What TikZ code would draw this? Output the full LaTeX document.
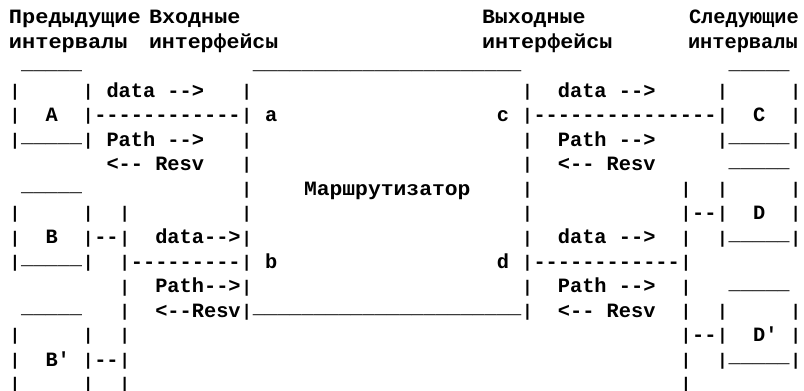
\documentclass[tikz,border=0pt]{standalone}
\usepackage{fontspec}
\setmonofont{Liberation Mono}
\usepackage{graphicx}

% Monospaced character grid: column pitch 12.2, row pitch 24.44
\tikzset{
  txt/.style={anchor=base west, inner sep=0pt, outer sep=0pt,
    font=\ttfamily\bfseries\fontsize{20.33}{24}\selectfont},
}
\newcommand\colx[1]{8.9+12.2*#1}
\newcommand\rowy[1]{391-24-24.44*(#1-1)}
% text at grid column #1, row #2
\newcommand\putcell[3]{\node[txt] (r#2c#1) at ({\colx{#1}},{\rowy{#2}}) {#3};}
% widened word at free x position #1, row #2, horizontal factor #3
\newcommand\putword[4]{\node[txt] (r#2x#1) at (#1,{\rowy{#2}}) {\scalebox{#3}[1]{#4}};}
% slimmer, shorter vertical bar and raised underscore, one cell wide each
\newcommand\vb{\makebox[0.6em]{\raisebox{0.04em}{\scalebox{0.8}[0.83]{|}}}}
\newcommand\us{\raisebox{0.17em}{\_}}
\newcommand\uu{\us\us\us\us\us}
\newcommand\ulong{\uu\uu\uu\uu\us\us}

\begin{document}
\begin{tikzpicture}[x=1pt,y=1pt]
\useasboundingbox (0,0) rectangle (804,391);
\fill[white] (0,0) rectangle (804,391);

% headings
\putword{9}{1}{1.08}{Предыдущие}
\putword{149}{1}{1.07}{Входные}
\putword{482}{1}{1.06}{Выходные}
\putword{689}{1}{1}{Следующие}
\putword{9}{2}{1.08}{интервалы}
\putword{149}{2}{1.06}{интерфейсы}
\putword{482}{2}{1.07}{интерфейсы}
\putword{688}{2}{1}{интервалы}

% row 3
\putcell{1}{3}{\uu}
\putcell{20}{3}{\ulong}
\putcell{59}{3}{\uu}

% row 4
\putcell{0}{4}{\vb}
\putcell{6}{4}{\vb}
\putcell{8}{4}{data -->}
\putcell{19}{4}{\vb}
\putcell{42}{4}{\vb}
\putcell{45}{4}{data -->}
\putcell{58}{4}{\vb}
\putcell{64}{4}{\vb}

% row 5
\putcell{0}{5}{\vb}
\putcell{3}{5}{A}
\putcell{6}{5}{\vb------------\vb}
\putcell{21}{5}{a}
\putcell{40}{5}{c}
\putcell{42}{5}{\vb---------------\vb}
\putcell{61}{5}{C}
\putcell{64}{5}{\vb}

% row 6
\putcell{0}{6}{\vb\uu\vb}
\putcell{8}{6}{Path -->}
\putcell{19}{6}{\vb}
\putcell{42}{6}{\vb}
\putcell{45}{6}{Path -->}
\putcell{58}{6}{\vb\uu\vb}

% row 7
\putcell{8}{7}{<-- Resv}
\putcell{19}{7}{\vb}
\putcell{42}{7}{\vb}
\putcell{45}{7}{<-- Resv}
\putcell{59}{7}{\uu}

% row 8
\putcell{1}{8}{\uu}
\putcell{19}{8}{\vb}
\putword{304}{8}{1.05}{Маршрутизатор}
\putcell{42}{8}{\vb}
\putcell{55}{8}{\vb}
\putcell{58}{8}{\vb}
\putcell{64}{8}{\vb}

% row 9
\putcell{0}{9}{\vb}
\putcell{6}{9}{\vb}
\putcell{9}{9}{\vb}
\putcell{19}{9}{\vb}
\putcell{42}{9}{\vb}
\putcell{55}{9}{\vb--\vb}
\putcell{61}{9}{D}
\putcell{64}{9}{\vb}

% row 10
\putcell{0}{10}{\vb}
\putcell{3}{10}{B}
\putcell{6}{10}{\vb--\vb}
\putcell{12}{10}{data-->\vb}
\putcell{42}{10}{\vb}
\putcell{45}{10}{data -->}
\putcell{55}{10}{\vb}
\putcell{58}{10}{\vb\uu\vb}

% row 11
\putcell{0}{11}{\vb\uu\vb}
\putcell{9}{11}{\vb---------\vb}
\putcell{21}{11}{b}
\putcell{40}{11}{d}
\putcell{42}{11}{\vb------------\vb}

% row 12
\putcell{9}{12}{\vb}
\putcell{12}{12}{Path-->\vb}
\putcell{42}{12}{\vb}
\putcell{45}{12}{Path -->}
\putcell{55}{12}{\vb}
\putcell{59}{12}{\uu}

% row 13
\putcell{1}{13}{\uu}
\putcell{9}{13}{\vb}
\putcell{12}{13}{<--Resv\vb}
\putcell{20}{13}{\ulong}
\putcell{42}{13}{\vb}
\putcell{45}{13}{<-- Resv}
\putcell{55}{13}{\vb}
\putcell{58}{13}{\vb}
\putcell{64}{13}{\vb}

% row 14
\putcell{0}{14}{\vb}
\putcell{6}{14}{\vb}
\putcell{9}{14}{\vb}
\putcell{55}{14}{\vb--\vb}
\putcell{61}{14}{D\textquotesingle}
\putcell{64}{14}{\vb}

% row 15
\putcell{0}{15}{\vb}
\putcell{3}{15}{B\textquotesingle}
\putcell{6}{15}{\vb--\vb}
\putcell{55}{15}{\vb}
\putcell{58}{15}{\vb\uu\vb}

% row 16
\putcell{0}{16}{\vb}
\putcell{6}{16}{\vb}
\putcell{9}{16}{\vb}
\putcell{55}{16}{\vb}
\end{tikzpicture}
\end{document}
